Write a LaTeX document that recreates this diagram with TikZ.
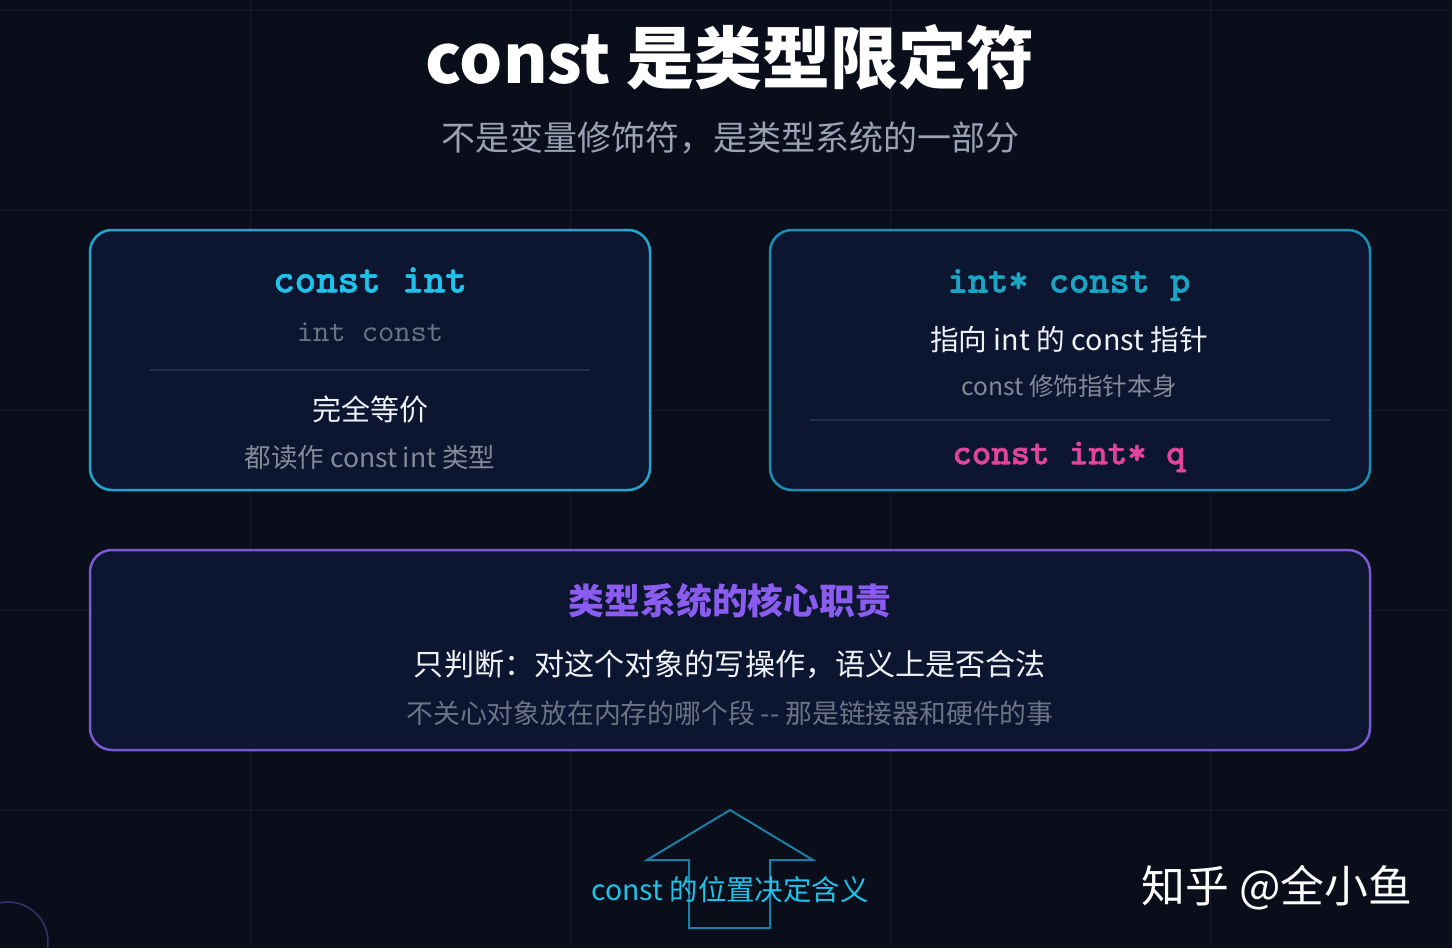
\documentclass[tikz,border=0pt]{standalone}
\usepackage{fontspec}
\setmainfont{Noto Sans CJK SC}
\newfontfamily\codefont{lmmono10-regular.otf}
\newfontfamily\codeboldfont{lmmonolt10-bold.otf}[FakeBold=1.5]
\definecolor{bg}{HTML}{0A0E1A}
\definecolor{boxfill}{HTML}{0C1630}
\definecolor{gridc}{HTML}{151B2C}
\definecolor{cyanb}{HTML}{22A6CF}
\definecolor{cyant}{HTML}{1FC2E8}
\definecolor{cyanarrow}{HTML}{1E7FA6}
\definecolor{pinkt}{HTML}{E0449C}
\definecolor{purpleb}{HTML}{7A58D2}
\definecolor{purplet}{HTML}{8B5CF0}
\definecolor{whitet}{HTML}{EEF1F6}
\definecolor{grayt}{HTML}{9AA2B3}
\definecolor{dimt}{HTML}{6B7386}
\definecolor{sepc}{HTML}{1D3049}
\definecolor{circc}{HTML}{36336A}
\begin{document}
\begin{tikzpicture}[x=1pt,y=-1pt,
  panel/.style={draw=#1, line width=2.5pt, fill=boxfill, rounded corners=22pt},
  txt/.style={inner sep=0pt, anchor=center},
  codeb/.style={txt, font=\codeboldfont\fontsize{#1}{#1}\selectfont},
  sep/.style={draw=sepc, line width=1.2pt}
]
% background
\fill[bg] (0,0) rectangle (1452,948);
\useasboundingbox (0,0) rectangle (1452,948);
% grid
\foreach \gx in {250,570,890,1210} \draw[gridc, line width=1pt] (\gx,0) -- (\gx,948);
\foreach \gy in {10,210,410,610,810} \draw[gridc, line width=1pt] (0,\gy) -- (1452,\gy);
% corner circle
\draw[circc, line width=1.5pt] (8,942) circle (40);

% title
\node[txt, font=\bfseries\fontsize{68}{72}\selectfont, text=white] (title) at (730,57) {const 是类型限定符};
\node[txt, font=\fontsize{34}{38}\selectfont, text=grayt] (subtitle) at (730,138) {不是变量修饰符，是类型系统的一部分};

% left panel
\path[panel=cyanb] (90,230) rectangle (650,490);
\node[codeb=41, text=cyant] (ci) at (370,280) {const int};
\node[txt, font=\codefont\fontsize{31}{34}\selectfont, text=dimt] (ic) at (370,332) {int const};
\draw[sep] (150,370) -- (590,370);
\node[txt, font=\fontsize{29}{33}\selectfont, text=whitet] (eq) at (370,409) {完全等价};
\node[txt, font=\fontsize{26.5}{30}\selectfont, text=grayt!85!black] (readas) at (370,457) {都读作 const int 类型};

% right panel
\path[panel=cyanb!85!black] (770,230) rectangle (1370,490);
\node[codeb=38.5, text=cyant!85!black] (icp) at (1069,285) {int* const p};
\node[txt, font=\fontsize{28.7}{32}\selectfont, text=whitet] (ptr) at (1069,340) {指向 int 的 const 指针};
\node[txt, font=\fontsize{24.6}{28}\selectfont, text=grayt!85!black] (mod) at (1069,386) {const 修饰指针本身};
\draw[sep] (810,420) -- (1330,420);
\node[codeb=37, text=pinkt] (ciq) at (1069,457) {const int* q};

% bottom panel
\path[panel=purpleb] (90,550) rectangle (1370,750);
\node[txt, font=\bfseries\fontsize{35.8}{39}\selectfont, text=purplet] (core) at (730,601) {类型系统的核心职责};
\node[txt, font=\fontsize{30.1}{34}\selectfont, text=whitet] (judge) at (730,664) {只判断：对这个对象的写操作，语义上是否合法};
\node[txt, font=\fontsize{26.8}{30}\selectfont, text=dimt] (care) at (730,713) {不关心对象放在内存的哪个段 -{}- 那是链接器和硬件的事};

% arrow
\draw[cyanarrow, line width=2pt, line join=miter]
  (730,810) -- (813,860) -- (770,860) -- (770,928) -- (689,928) -- (689,860) -- (647,860) -- cycle;
\node[txt, font=\fontsize{28.4}{32}\selectfont, text=cyant] (pos) at (730,890) {const 的位置决定含义};

% watermark
\node[txt, font=\fontsize{43.8}{47}\selectfont, text=white] (wm) at (1277,888) {知乎 @全小鱼};
\end{tikzpicture}
\end{document}
